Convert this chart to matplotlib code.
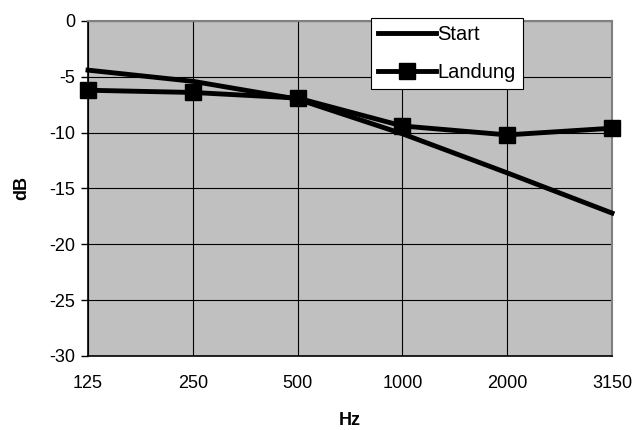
import matplotlib
matplotlib.use("Agg")
from matplotlib import pyplot as plt

# data
freqs = ["125", "250", "500", "1000", "2000", "3150"]
start = [-4.4, -5.4, -7.0, -10.1, -13.6, -17.2]
landung = [-6.2, -6.4, -6.9, -9.4, -10.2, -9.6]

plt.rcParams['font.family'] = ['Liberation Sans', 'DejaVu Sans']
plt.rcParams['axes.unicode_minus'] = False

fig = plt.figure(figsize=(6.35, 4.3), dpi=100)
ax = fig.add_axes([88 / 635, 1 - 356 / 430, 524 / 635, 335 / 430])
ax.set_facecolor('#c0c0c0')

x = list(range(len(freqs)))
ax.plot(x, start, color='black', linewidth=3.5, label='Start', clip_on=False, zorder=3)
ax.plot(x, landung, color='black', linewidth=3.5, marker='s', markersize=11,
        label='Landung', clip_on=False, zorder=4)

ax.set_xlim(0, len(freqs) - 1)
ax.set_ylim(-30, 0)
ax.set_yticks(range(-30, 1, 5))
ax.set_xticks(x)
ax.set_xticklabels(freqs)
ax.grid(True, color='black', linewidth=0.8)
ax.set_axisbelow(True)

ax.tick_params(axis='y', length=5, width=1, labelsize=13, pad=4)
ax.tick_params(axis='x', length=0, labelsize=13, pad=14)

for s in ['top', 'right']:
    ax.spines[s].set_color('#808080')
    ax.spines[s].set_linewidth(1.5)
for s in ['left', 'bottom']:
    ax.spines[s].set_color('black')
    ax.spines[s].set_linewidth(1.2)

ax.set_xlabel('Hz', fontweight='bold', fontsize=13, labelpad=14)
ax.set_ylabel('dB', fontweight='bold', fontsize=13, labelpad=14)

leg = ax.legend(loc='upper left', bbox_to_anchor=(283 / 524, 1.01), frameon=True,
                fancybox=False, edgecolor='black', framealpha=1, fontsize=14.5,
                handlelength=2.9, handletextpad=0.05, borderpad=0.35,
                labelspacing=0.95, borderaxespad=0)
leg.get_frame().set_linewidth(0.8)
leg.set_zorder(10)

plt.savefig('out.png', dpi=100)
